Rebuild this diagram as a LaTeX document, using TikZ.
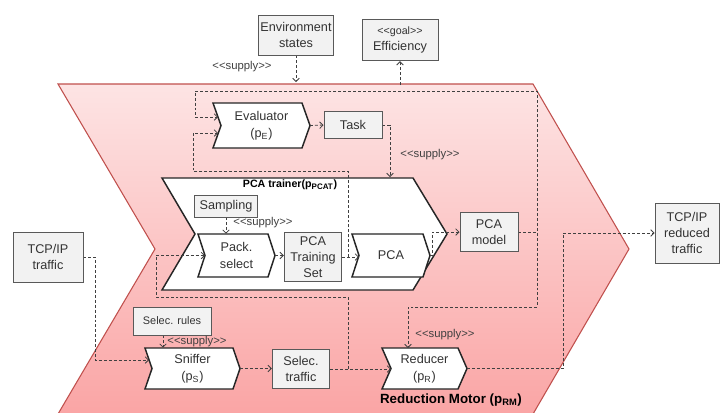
\documentclass[tikz,border=0pt]{standalone}
\usepackage{fontspec}
\setmainfont{Liberation Sans}[Ligatures=TeXOff]
\usepackage{tikz}
\usetikzlibrary{arrows.meta}
\definecolor{boxgray}{HTML}{F2F2F2}
\definecolor{boxline}{HTML}{595959}
\definecolor{linegray}{HTML}{404040}
\definecolor{motorred}{HTML}{C0504D}
\definecolor{motortop}{RGB}{253,228,228}
\definecolor{motorbot}{RGB}{250,165,165}
\tikzset{
  box/.style={draw=boxline, fill=boxgray, line width=0.75pt, inner sep=0pt, align=center, text=black!80, font=\fontsize{9.5}{12}\selectfont},
  chev/.style={draw=black!85, fill=white, line width=1.1pt},
  chevtext/.style={inner sep=0pt, align=center, text=black!80, font=\fontsize{9.5}{12.5}\selectfont},
  flow/.style={draw=linegray, line width=0.6pt, dash pattern=on 2.2pt off 1.5pt, -{Straight Barb[length=2.5pt,width=5pt]}},
  stereo/.style={text=linegray, inner sep=0pt, font=\fontsize{8.5}{10}\selectfont},
}
% chevron: (top left)(top edge:height:tip), name, text
\def\chevron(#1)(#2:#3:#4)#5#6{
  \draw[chev] (#1) -- ++(#2,0) -- ++(#4,#3/2) -- ++(-#4,#3/2) -- ++(-#2,0) -- ++(#4,-#3/2) -- cycle;
  \path (#1) ++(#4,#3/2) coordinate (#5-in) ++(#2,0) coordinate (#5-out);
  \path (#1) ++({(#2+#4)/2},{#3/2}) node[chevtext, minimum width={(#2+#4)*0.75pt}, minimum height={#3*0.75pt}] (#5) {#6};
}
\begin{document}
\begin{tikzpicture}[x=0.75pt, y=-0.75pt]
		%%%%% START %%%%%
		\useasboundingbox (0,0) rectangle (720,412);
		\clip (0,0) rectangle (720,412);
		
		% reduction motor
		\draw[draw=motorred, line width=0.8pt, top color=motortop, bottom color=motorbot] (58,84) -- (533,84) -- (629,249) -- (533,414) -- (58,414) -- (155,249) -- cycle;
		\node[text=black, font=\bfseries\fontsize{10}{12}\selectfont] (motor) at (451,400) {Reduction Motor (p\textsubscript{RM})};
		
		% PCA trainer
		\draw[chev] (162,178) -- (413,178) -- (447,234) -- (413,290) -- (162,290) -- (195,234) -- cycle;
		\node[text=black, font=\bfseries\fontsize{8}{9}\selectfont] (trainer) at (290,185) {PCA trainer(p\textsubscript{PCAT})};
		
		% processes
		\chevron(213,103)(89:45:8){eval}{Evaluator\\(p\textsubscript{E})}
		\chevron(198,234)(70:43:7){pack}{Pack.\\select}
		\chevron(352,234)(71:43:7){pca}{PCA}
		\chevron(145,348)(88:41:7){sniffer}{Sniffer\\(p\textsubscript{S})}
		\chevron(382,348)(76:41:9){reducer}{Reducer\\(p\textsubscript{R})}
		
		% data
		\node[box, minimum width=56pt, minimum height=30pt] (env) at (296,35) {Environment\\states};
		\node[box, minimum width=57pt, minimum height=31pt] (goal) at (400,40) {{\fontsize{8}{9}\selectfont <<goal>>}\\Efficiency};
		\node[box, minimum width=43.5pt, minimum height=20pt] (task) at (353,125) {Task};
		\node[box, minimum width=47pt, minimum height=16.5pt] (sampling) at (226,206) {Sampling};
		\node[box, minimum width=43pt, minimum height=37pt] (trainset) at (313,257) {PCA\\Training\\Set};
		\node[box, minimum width=43.5pt, minimum height=29pt] (model) at (489,232) {PCA\\model};
		\node[box, minimum width=52.5pt, minimum height=37.5pt] (tcpin) at (48,257) {TCP/IP\\traffic};
		\node[box, minimum width=48pt, minimum height=45pt] (tcpout) at (687,233) {TCP/IP\\reduced\\traffic};
		\node[box, minimum width=58.5pt, minimum height=21pt, font=\fontsize{8.2}{10}\selectfont] (rules) at (172,321) {Selec. rules};
		\node[box, minimum width=43pt, minimum height=29pt] (seltraffic) at (301,369) {Selec.\\traffic};
		
		% flows
		\draw[flow] (env.south) -- (296,82);
		\draw[flow] (400,85) -- (goal.south);
		\draw[flow] (eval-out) -- (task.west);
		\draw[flow] (task.east) -| (390,177);
		\draw[flow] (model.east) -| (537,91) -| (195,117) -- (218,117);
		\draw[flow] (model.east) -| (537,307) -| (408,348);
		\draw[flow] (sampling.south) -- (sampling.south |- pack.north);
		\draw[flow] (pack-out) -- (pack-out -| trainset.west);
		\draw[flow] (trainset.east) -- (trainset.east -| pca-in);
		\draw[flow] (trainset.east) ++(6,0) |- (193,171) |- (218,133);
		\draw[flow] (pca-out) -- ++(2,0) |- (model.west);
		\draw[flow] (tcpin.east) -| (95,360) -- (149,360);
		\draw[flow] (163,0 |- rules.south) -- (163,0 |- sniffer.north);
		\draw[flow] (sniffer-out) -- (sniffer-out -| seltraffic.west);
		\draw[flow] (seltraffic.east) -- (seltraffic.east -| reducer-in);
		\draw[flow] (seltraffic.east) ++(18,0) |- (156,297) |- (pack-in);
		\draw[flow] (reducer-out) -| (563,233) -- (tcpout.west);
		
		% stereotypes
		\node[stereo] (sup-env) at (242,67) {<<supply>>};
		\node[stereo] (sup-task) at (430,155) {<<supply>>};
		\node[stereo] (sup-samp) at (263,223) {<<supply>>};
		\node[stereo] (sup-rules) at (197,342) {<<supply>>};
		\node[stereo] (sup-model) at (445,335) {<<supply>>};
		
		%%%%% END %%%%%
	\end{tikzpicture}
\end{document}
